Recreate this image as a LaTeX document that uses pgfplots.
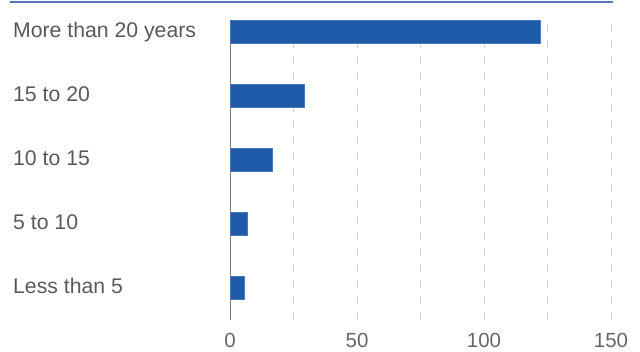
\documentclass[border=0pt]{standalone}
\usepackage{fontspec}
\setmainfont{Liberation Sans}
\usepackage{pgfplots}
\pgfplotsset{compat=1.18}
\definecolor{barblue}{HTML}{1D5AA7}
\definecolor{topblue}{HTML}{5575C0}
\definecolor{ylab}{HTML}{595959}
\definecolor{xlab}{HTML}{666666}
\definecolor{gridc}{HTML}{D4D4D4}
\definecolor{axisc}{HTML}{7A7A7A}
\begin{document}
\begin{tikzpicture}[x=1bp,y=1bp]
\path[use as bounding box] (0,0) rectangle (640,351);
\draw[topblue, line width=1.6bp] (10,349) -- (613,349);
\begin{axis}[
  at={(230bp,31bp)}, anchor=south west,
  scale only axis, width=381bp, height=320bp,
  xmin=0, xmax=150, ymin=-0.5, ymax=4.5,
  xbar, bar width=23bp,
  axis line style={draw=none},
  tick style={draw=none}, major tick length=0pt,
  xtick={0,50,100,150}, xticklabels={0,50,100,150},
  ytick={0,1,2,3,4},
  yticklabels={Less than 5, 5 to 10, 10 to 15, 15 to 20, More than 20 years},
  xticklabel style={font=\fontsize{20.5}{20.5}\selectfont, text=xlab, anchor=base, inner sep=0pt, yshift=-27.5bp},
  yticklabel style={font=\fontsize{21.3}{21.3}\selectfont, text=ylab, anchor=base west, inner sep=0pt, xshift=-217bp, yshift=-5.8bp},
  clip=false,
]
\pgfplotsinvokeforeach{25,50,75,100,125,150}{
  \draw[gridc, line width=1bp, dash pattern=on 8bp off 8bp] (axis cs:#1,-0.5) -- (axis cs:#1,4.19);
}
\draw[axisc, line width=1bp] (axis cs:0,-0.5) -- (axis cs:0,4.19);
\addplot[fill=barblue, draw=barblue!80!white, line width=0.6bp] coordinates {
  (5.5,0) (6.8,1) (16.5,2) (29.4,3) (122,4)
};
\end{axis}
\end{tikzpicture}
\end{document}
